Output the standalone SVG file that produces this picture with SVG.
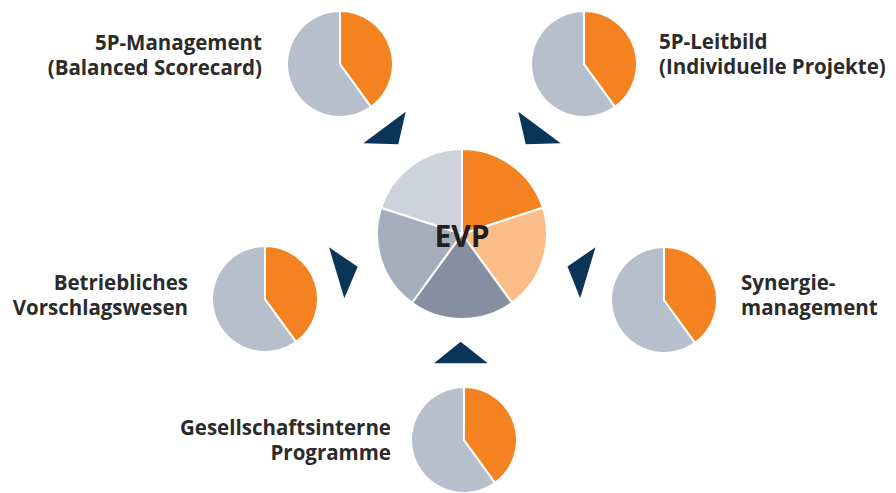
<svg xmlns="http://www.w3.org/2000/svg" xmlns:xlink="http://www.w3.org/1999/xlink" width="896" height="493" viewBox="0 0 896 493">
<style>
.lbl{font-family:"Open Sans","Liberation Sans",sans-serif;font-weight:700;font-size:20.5px;fill:#2b2b2b}
.r{text-anchor:end}
.sep{stroke:#ffffff;stroke-width:2;stroke-linejoin:round}
.arrow{fill:#0b3459}
</style>
<defs>
<g id="smallpie">
<path class="sep" d="M0 0 L31.15 42.88 A53 53 0 1 1 0 -53 Z" fill="#b8bfcc"/>
<path class="sep" d="M0 0 L0 -53 A53 53 0 0 1 31.15 42.88 Z" fill="#f58220"/>
</g>
</defs>
<rect width="896" height="493" fill="#ffffff"/>
<g id="connectors">
<polygon class="arrow" points="405.7,111.7 363.3,143.3 398.3,144.3"/>
<polygon class="arrow" points="518.3,111.7 560.7,143.3 525.7,144.3"/>
<polygon class="arrow" points="329,247.3 357.7,266.7 344.3,298.3"/>
<polygon class="arrow" points="595.5,247.3 567.5,266.5 580.2,298.3"/>
<polygon class="arrow" points="460.7,341.7 434,363.3 487.7,363.3"/>
</g>
<g id="node-evp">
<path class="sep" d="M462 234 L462 149 A85 85 0 0 1 542.84 207.73 Z" fill="#f58220"/>
<path class="sep" d="M462 234 L542.84 207.73 A85 85 0 0 1 511.96 302.77 Z" fill="#fbbd88"/>
<path class="sep" d="M462 234 L511.96 302.77 A85 85 0 0 1 412.04 302.77 Z" fill="#868fa1"/>
<path class="sep" d="M462 234 L412.04 302.77 A85 85 0 0 1 381.16 207.73 Z" fill="#a6aebe"/>
<path class="sep" d="M462 234 L381.16 207.73 A85 85 0 0 1 462 149 Z" fill="#cdd2dd"/>
<text x="462" y="247" text-anchor="middle" font-family="'Open Sans','Liberation Sans',sans-serif" font-weight="700" font-size="30" fill="#231f20">EVP</text>
</g>
<g id="node-management">
<use xlink:href="#smallpie" transform="translate(340,64)"/>
<text class="lbl r"><tspan x="262" y="50">5P-Management</tspan><tspan x="262" y="75">(Balanced Scorecard)</tspan></text>
</g>
<g id="node-leitbild">
<use xlink:href="#smallpie" transform="translate(584,64)"/>
<text class="lbl"><tspan x="659" y="49">5P-Leitbild</tspan><tspan x="659" y="74">(Individuelle Projekte)</tspan></text>
</g>
<g id="node-vorschlag">
<use xlink:href="#smallpie" transform="translate(265,299)"/>
<text class="lbl r"><tspan x="188" y="290">Betriebliches</tspan><tspan x="188" y="315">Vorschlagswesen</tspan></text>
</g>
<g id="node-synergie">
<use xlink:href="#smallpie" transform="translate(664,300)"/>
<text class="lbl"><tspan x="741" y="290">Synergie-</tspan><tspan x="741" y="315">management</tspan></text>
</g>
<g id="node-programme">
<use xlink:href="#smallpie" transform="translate(464,440)"/>
<text class="lbl r"><tspan x="391" y="435">Gesellschaftsinterne</tspan><tspan x="391" y="460">Programme</tspan></text>
</g>
</svg>
